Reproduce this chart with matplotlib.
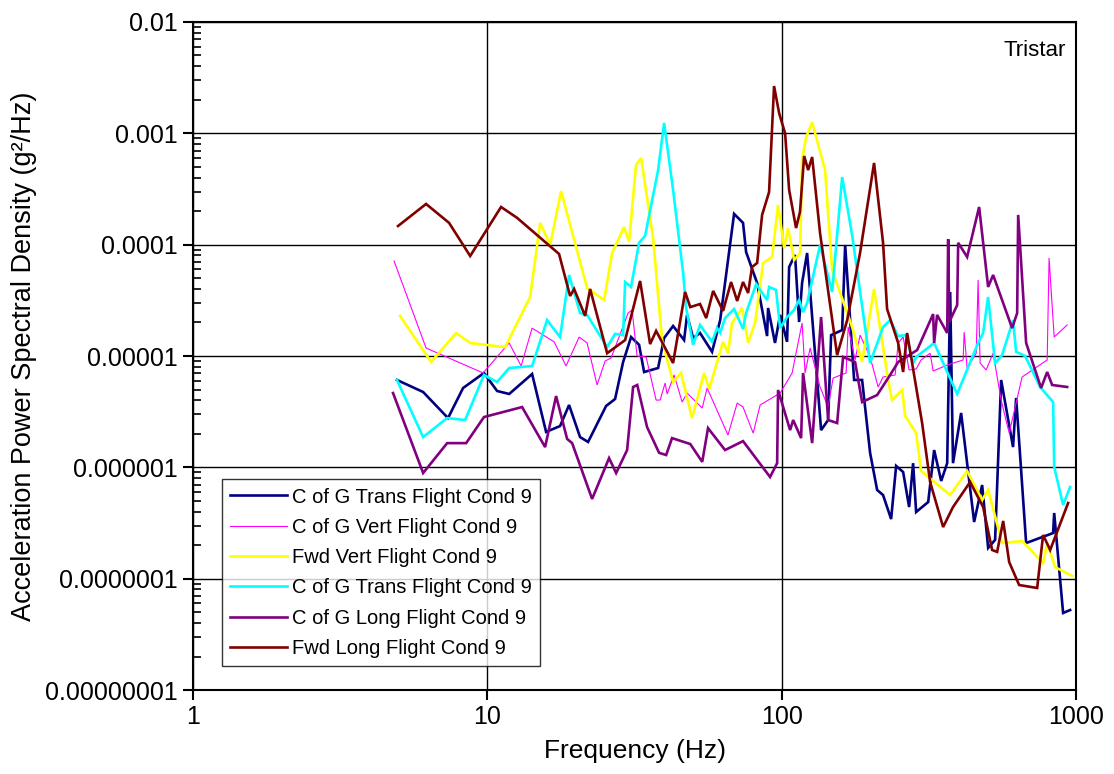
import numpy as np
import matplotlib
matplotlib.use("Agg")
import matplotlib.pyplot as plt
from matplotlib.ticker import LogLocator, NullLocator, FixedLocator, FixedFormatter

plt.rcParams["font.family"] = ["Liberation Sans", "DejaVu Sans"]

# ── DATA (frequency in Hz, PSD in g^2/Hz) ────────────────────────────────────
cg_trans_f = [4.93, 6.05, 7.35, 8.27, 9.74, 10.79, 11.86, 14.19, 15.83, 17.66,
              18.95, 20.65, 21.99, 25.32, 27.16, 28.92, 30.78, 32.77, 34.08, 38.03,
              39.85, 42.76, 46.6, 47.7, 50.0, 52.8, 58.0, 61.8, 68.9, 73.9,
              75.7, 82.5, 89.2, 89.9, 94.9, 98.8, 104.3, 106, 111, 114.6,
              117.3, 122, 136.1, 143.8, 147.2, 160.5, 164.3, 176.2, 187.6, 199.7,
              211, 221, 235.4, 244.8, 258.6, 271, 279.6, 286.3, 314.6, 329.6,
              348.3, 365, 373.6, 382, 407, 450.7, 479.8, 502.8, 531, 556.7,
              611, 626, 676.9, 836, 843, 904, 955]
cg_trans_p = [6.09e-6, 4.75e-6, 2.77e-6, 5.16e-6, 7.04e-6, 4.85e-6, 4.56e-6, 6.89e-6, 2.08e-6, 2.35e-6,
              3.63e-6, 1.87e-6, 1.69e-6, 3.56e-6, 4.11e-6, 8.83e-6, 1.48e-5, 1.26e-5, 7.18e-6, 7.80e-6,
              1.45e-5, 1.86e-5, 1.39e-5, 2.34e-5, 1.45e-5, 1.61e-5, 1.09e-5, 2.10e-5, 1.89e-4, 1.57e-4,
              8.59e-5, 4.53e-5, 1.51e-5, 2.70e-5, 1.31e-5, 2.34e-5, 1.34e-5, 6.30e-5, 8.08e-5, 2.02e-5,
              4.53e-5, 8.42e-5, 2.16e-6, 2.66e-6, 1.54e-5, 1.71e-5, 9.93e-5, 6.09e-6, 6.09e-6, 1.35e-6,
              6.26e-7, 5.64e-7, 3.43e-7, 1.03e-6, 9.08e-7, 4.40e-7, 1.09e-6, 3.97e-7, 4.88e-7, 1.43e-6,
              7.54e-7, 1.09e-6, 3.76e-5, 1.09e-6, 3.08e-6, 3.23e-7, 6.94e-7, 1.89e-7, 2.23e-7, 6.09e-6,
              1.52e-6, 4.20e-6, 2.09e-7, 2.57e-7, 3.89e-7, 4.92e-8, 5.23e-8]

cg_vert_f = [4.82, 6.19, 9.67, 11.86, 13.02, 14.19, 16.86, 18.51, 20.5, 21.82,
             23.59, 25.12, 26.33, 30.07, 31.02, 32.26, 34.62, 37.44, 38.63, 40.17,
             40.8, 43.1, 45.9, 47.7, 53.7, 55.8, 65.7, 70.6, 73.9, 80.0,
             84.5, 98.8, 108.5, 117.3, 120.1, 124.9, 135, 143.8, 149.5, 165.5,
             168.2, 177.6, 184.7, 199.7, 212.7, 221, 242.9, 248.7, 258.6, 271,
             286.3, 297.6, 319.4, 327, 365, 413.5, 416.8, 426.6, 458, 464.9,
             472.2, 495, 522.9, 556.7, 592.8, 656, 798, 810, 843, 933]
cg_vert_p = [7.13e-5, 1.18e-5, 7.04e-6, 1.31e-5, 8.13e-6, 1.78e-5, 1.34e-5, 8.13e-6, 1.48e-5, 1.31e-5,
             5.49e-6, 9.02e-6, 9.60e-6, 2.43e-5, 2.59e-5, 1.0e-5, 9.80e-6, 4.02e-6, 4.02e-6, 5.72e-6,
             4.56e-6, 6.75e-6, 3.86e-6, 4.65e-6, 3.41e-6, 5.16e-6, 1.95e-6, 3.78e-6, 3.48e-6, 2.03e-6,
             3.63e-6, 4.65e-6, 7.04e-6, 1.98e-5, 7.04e-6, 1.18e-5, 5.27e-6, 3.48e-6, 6.34e-6, 7.04e-6,
             1.82e-5, 9.21e-6, 1.54e-5, 9.80e-6, 5.27e-6, 6.48e-6, 6.75e-6, 1.31e-5, 1.48e-5, 7.49e-6,
             7.64e-6, 9.21e-6, 1.06e-5, 7.33e-6, 8.30e-6, 9.21e-6, 1.64e-5, 7.80e-6, 1.06e-5, 4.82e-5,
             8.65e-6, 7.49e-6, 1.06e-5, 4.02e-6, 2.03e-6, 6.48e-6, 9.21e-6, 7.59e-5, 1.48e-5, 1.90e-5]

fwd_vert_f = [5.05, 6.44, 7.83, 8.74, 11.49, 12.92, 13.97, 15.11, 16.34, 17.8,
              21.82, 24.93, 26.53, 29.14, 30.3, 32.0, 33.3, 36.56, 39.23, 42.76,
              45.5, 49.6, 54.5, 56.7, 63.2, 65.7, 67.8, 73.4, 76.9, 81.2,
              86.5, 92.8, 97.2, 101.9, 105.1, 110.2, 115.5, 117.3, 121.1, 126.9,
              140.4, 148.4, 173.5, 187.6, 206, 229.9, 237.2, 256.6, 262.7, 286.3,
              297.6, 373.6, 426.6, 479.8, 502.8, 561, 656, 773, 798, 849, 970]
fwd_vert_p = [2.29e-5, 8.83e-6, 1.61e-5, 1.31e-5, 1.20e-5, 2.24e-5, 3.39e-5, 1.57e-4, 9.93e-5, 3.03e-4,
              4.08e-5, 3.18e-5, 8.42e-5, 1.44e-4, 1.06e-4, 5.19e-4, 6.0e-4, 1.15e-4, 1.39e-5, 5.84e-6,
              7.04e-6, 2.77e-6, 7.04e-6, 5.05e-6, 1.34e-5, 1.06e-5, 1.98e-5, 2.70e-5, 1.31e-5, 1.98e-5,
              6.84e-5, 7.75e-5, 2.27e-4, 9.34e-5, 1.41e-4, 7.28e-5, 8.42e-5, 5.76e-4, 9.27e-4, 1.26e-3,
              4.68e-4, 5.92e-5, 1.82e-5, 8.83e-6, 4.0e-5, 6.09e-6, 4.02e-6, 4.95e-6, 2.89e-6, 2.03e-6,
              9.27e-7, 5.64e-7, 9.27e-7, 5.09e-7, 6.26e-7, 2.09e-7, 2.18e-7, 1.38e-7, 2.09e-7, 1.27e-7, 1.06e-7]

cg_trans2_f = [4.93, 6.05, 7.30, 8.40, 9.74, 10.79, 11.86, 12.92, 14.19, 15.95,
               17.66, 18.95, 20.65, 21.82, 25.52, 27.16, 28.92, 29.38, 30.78, 32.77,
               34.35, 38.03, 39.85, 42.76, 46.25, 47.35, 50.0, 52.8, 58.0, 60.3,
               61.8, 64.2, 68.9, 73.9, 75.7, 81.9, 89.2, 90.6, 95.7, 98.8,
               104.3, 110.2, 114.6, 118.2, 122, 135, 148.4, 160.5, 173.5, 199.7,
               221, 233.6, 248.7, 264.7, 279.6, 286.3, 329.6, 394.7, 464.9, 483.5,
               502.8, 531, 561, 611, 626, 671.6, 755, 836, 843, 904, 955]
cg_trans2_p = [6.09e-6, 1.87e-6, 2.77e-6, 2.66e-6, 6.75e-6, 5.84e-6, 7.80e-6, 7.96e-6, 8.13e-6, 2.10e-5,
               1.48e-5, 5.34e-5, 2.43e-5, 2.34e-5, 1.20e-5, 1.58e-5, 1.54e-5, 4.62e-5, 4.17e-5, 1.04e-4,
               1.20e-4, 4.68e-4, 1.24e-3, 3.10e-4, 5.57e-5, 2.70e-5, 1.26e-5, 1.90e-5, 1.34e-5, 1.78e-5,
               1.61e-5, 2.19e-5, 2.64e-5, 1.75e-5, 2.43e-5, 4.43e-5, 3.18e-5, 4.17e-5, 3.92e-5, 1.78e-5,
               2.24e-5, 2.59e-5, 3.18e-5, 2.48e-5, 2.99e-5, 9.93e-5, 3.76e-5, 4.05e-4, 1.22e-4, 8.65e-6,
               1.82e-5, 2.10e-5, 1.51e-5, 1.54e-5, 8.65e-6, 9.80e-6, 1.31e-5, 4.56e-6, 1.31e-5, 1.61e-5,
               3.39e-5, 8.65e-6, 1.02e-5, 2.10e-5, 1.09e-5, 1.0e-5, 5.27e-6, 3.86e-6, 1.01e-6, 4.59e-7, 6.66e-7]

cg_long_f = [4.78, 6.05, 7.30, 8.47, 9.74, 13.12, 15.71, 17.12, 18.66, 19.41,
             22.69, 25.91, 27.38, 29.84, 31.27, 32.3, 34.88, 38.32, 40.5, 42.4,
             48.9, 53.7, 56.2, 64.2, 73.9, 91.3, 96.5, 97.2, 106.8, 109.4,
             116.4, 118.2, 126.9, 136.1, 143.8, 154.3, 161.7, 177.6, 187.6, 211,
             233.6, 248.7, 288.5, 327, 329.6, 337.3, 365, 367.8, 371, 394.7,
             397.8, 426.6, 468.6, 502.8, 522.9, 606.6, 631, 636, 676.9, 761,
             798, 829.7, 933]
cg_long_p = [4.65e-6, 8.89e-7, 1.65e-6, 1.65e-6, 2.83e-6, 3.48e-6, 1.52e-6, 4.37e-6, 1.80e-6, 1.65e-6,
             5.20e-7, 1.21e-6, 8.89e-7, 1.43e-6, 5.27e-6, 5.49e-6, 2.30e-6, 1.35e-6, 1.29e-6, 1.83e-6,
             1.62e-6, 1.12e-6, 2.25e-6, 1.43e-6, 1.72e-6, 8.19e-7, 1.09e-6, 4.95e-6, 2.16e-6, 2.66e-6,
             1.83e-6, 7.04e-6, 1.65e-6, 2.24e-5, 2.66e-6, 2.50e-6, 9.80e-6, 8.83e-6, 3.86e-6, 4.46e-6,
             6.75e-6, 8.83e-6, 1.13e-5, 2.38e-5, 1.31e-5, 2.34e-5, 1.61e-5, 1.12e-4, 2.02e-5, 2.87e-5,
             1.04e-4, 7.75e-5, 2.18e-4, 4.17e-5, 5.34e-5, 1.78e-5, 2.43e-5, 1.85e-4, 1.31e-5, 5.16e-6,
             7.18e-6, 5.49e-6, 5.27e-6]

fwd_long_f = [4.97, 6.19, 7.41, 8.74, 11.13, 12.62, 17.52, 19.1, 19.71, 21.48,
              22.34, 25.52, 29.38, 33.03, 35.72, 37.44, 42.76, 46.97, 48.9, 52.8,
              55.4, 58.5, 63.2, 67.3, 70.6, 73.9, 76.9, 79.3, 82.5, 85.8,
              90.6, 94.2, 98.0, 102.7, 106, 111.9, 115.4, 119.2, 123, 126.9,
              135, 154.3, 166.9, 184.6, 206, 221, 228.1, 248.7, 258.6, 266.8,
              300, 319.4, 353.6, 382, 436.8, 483.5, 518.8, 539.5, 565.6, 592.8,
              640.9, 737.9, 773, 816.9, 940]
fwd_long_p = [1.47e-4, 2.32e-4, 1.57e-4, 7.91e-5, 2.18e-4, 1.74e-4, 8.25e-5, 3.46e-5, 4.0e-5, 2.29e-5,
              4.0e-5, 1.06e-5, 1.39e-5, 4.72e-5, 1.28e-5, 1.68e-5, 8.65e-6, 3.76e-5, 2.75e-5, 2.93e-5,
              2.19e-5, 3.84e-5, 2.54e-5, 4.62e-5, 3.12e-5, 4.62e-5, 3.68e-5, 6.30e-5, 6.84e-5, 1.85e-4,
              2.97e-4, 2.66e-3, 1.52e-3, 1.0e-3, 3.10e-4, 1.41e-4, 1.97e-4, 6.26e-4, 4.68e-4, 6.13e-4,
              1.27e-4, 1.02e-5, 2.10e-5, 8.42e-5, 5.42e-4, 1.04e-4, 2.64e-5, 1.31e-5, 7.18e-6, 1.61e-5,
              2.50e-6, 7.38e-7, 2.91e-7, 4.40e-7, 7.38e-7, 4.40e-7, 1.81e-7, 1.74e-7, 3.30e-7, 1.41e-7,
              8.77e-8, 8.25e-8, 2.47e-7, 1.81e-7, 4.78e-7]

labels = ["C of G Trans Flight Cond 9", "C of G Vert Flight Cond 9",
          "Fwd Vert Flight Cond 9", "C of G Trans Flight Cond 9",
          "C of G Long Flight Cond 9", "Fwd Long Flight Cond 9"]
y_ticks = [1e-8, 1e-7, 1e-6, 1e-5, 1e-4, 1e-3, 1e-2]
y_tick_labels = ["0.00000001", "0.0000001", "0.000001", "0.00001",
                 "0.0001", "0.001", "0.01"]
x_ticks = [1, 10, 100, 1000]
x_tick_labels = ["1", "10", "100", "1000"]

# ── STYLE ────────────────────────────────────────────────────────────────────
NAVY    = "#000080"
MAGENTA = "#FF00FF"
YELLOW  = "#FFFF00"
CYAN    = "#00FFFF"
PURPLE  = "#800080"
MAROON  = "#800000"

series = [
    (cg_trans_f,  cg_trans_p,  NAVY,    1.9),
    (cg_vert_f,   cg_vert_p,   MAGENTA, 0.8),
    (fwd_vert_f,  fwd_vert_p,  YELLOW,  1.9),
    (cg_trans2_f, cg_trans2_p, CYAN,    1.9),
    (cg_long_f,   cg_long_p,   PURPLE,  1.9),
    (fwd_long_f,  fwd_long_p,  MAROON,  1.9),
]

fig = plt.figure(figsize=(11.14, 7.74), dpi=100)
ax = fig.add_axes([0.1733, 0.1085, 0.7926, 0.8631])

for (f, p, col, lw), lab in zip(series, labels):
    ax.plot(f, p, color=col, lw=lw, label=lab, solid_joinstyle="miter")

ax.set_xscale("log")
ax.set_yscale("log")
ax.set_xlim(1, 1000)
ax.set_ylim(1e-8, 1e-2)

ax.xaxis.set_major_locator(FixedLocator(x_ticks))
ax.xaxis.set_major_formatter(FixedFormatter(x_tick_labels))
ax.xaxis.set_minor_locator(NullLocator())
ax.yaxis.set_major_locator(FixedLocator(y_ticks))
ax.yaxis.set_major_formatter(FixedFormatter(y_tick_labels))
ax.yaxis.set_minor_locator(LogLocator(base=10, subs=np.arange(2, 10), numticks=20))

ax.tick_params(axis="both", which="major", direction="out", length=7, width=1.5,
               labelsize=18, colors="black", pad=4)
ax.tick_params(axis="y", which="minor", direction="in", length=6, width=1.2)
for sp in ax.spines.values():
    sp.set_linewidth(1.5)
    sp.set_color("black")

ax.grid(which="major", color="black", lw=1.0)
ax.set_axisbelow(True)

ax.set_xlabel("Frequency (Hz)", fontsize=19, labelpad=7)
ax.set_ylabel("Acceleration Power Spectral Density (g²/Hz)", fontsize=19.5, labelpad=6)

ax.text(0.988, 0.958, "Tristar", transform=ax.transAxes, ha="right", va="center",
        fontsize=16)

leg = ax.legend(loc="lower left", bbox_to_anchor=(0.033, 0.036), borderaxespad=0,
                fontsize=14.5, frameon=True, fancybox=False, edgecolor="black",
                handlelength=2.8, handletextpad=0.25, labelspacing=0.56,
                borderpad=0.4)
leg.get_frame().set_linewidth(1.0)

fig.savefig("out.png", dpi=100)
